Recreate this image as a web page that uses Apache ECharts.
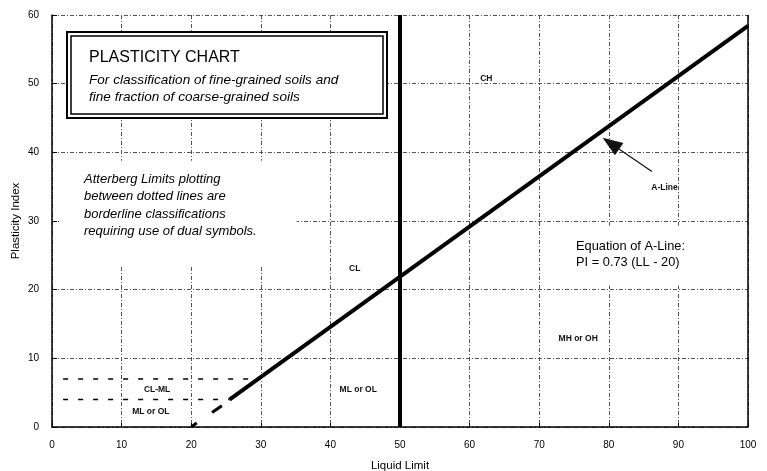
<!DOCTYPE html>
<html><head><meta charset="utf-8">
<script src="https://cdn.jsdelivr.net/npm/echarts@6/dist/echarts.min.js"></script>
<style>html,body{margin:0;padding:0;background:#fff}#c{width:767px;height:471px}</style>
</head><body><div id="c"></div>
<script>
// ---- data ----
const xTicks = [0,10,20,30,40,50,60,70,80,90,100];
const yTicks = [0,10,20,30,40,50,60];
const aLine = [[25.5,4.0],[100,58.4]];
const aLineStubs = [[[20,0],[20.8,0.6]],[[23.0,2.1],[24.4,3.1]]];
const llFifty = [[50,0],[50,60]];
const rightEdge = [[100,0],[100,60]];
const piFour = [[1.6,4],[25.5,4]];
const piSeven = [[1.6,7],[29.6,7]];
const zoneLabels = [
  {name:'CH', value:[62.4,50.8]},
  {name:'CL', value:[43.5,23.0]},
  {name:'MH or OH', value:[75.6,12.8]},
  {name:'ML or OL', value:[44.0,5.4]},
  {name:'CL-ML', value:[15.1,5.5]},
  {name:'ML or OL', value:[14.2,2.3]},
  {name:'A-Line', value:[88.0,34.9]}
];
const arrow = [[86.2,37.2],[80.3,41.3]];
const eqLines = ['Equation of A-Line:','PI = 0.73 (LL - 20)'];
const eqAnchor = [75.3,27.4];
const noteLines = ['Atterberg Limits plotting','between dotted lines are','borderline classifications','requiring use of dual symbols.'];
const noteAnchor = [4.6,37.3];
const titleText = 'PLASTICITY CHART';
const subTitleLines = ['For classification of fine-grained soils and','fine fraction of coarse-grained soils'];

const font = 'Liberation Sans, Arial, sans-serif';
const chart = echarts.init(document.getElementById('c'));
const gridLine = {show:true, lineStyle:{color:'#555', width:1, type:[4,2,1,2]}};
function seg(data, width, type){
  return {type:'line', data:data, symbol:'none', silent:true, animation:false,
    lineStyle:{color:'#000', width:width, type:type||'solid'}, z:3};
}
const opt = {
  animation:false,
  grid:{left:52, right:19, top:15, bottom:44, containLabel:false, outerBoundsMode:'none'},
  xAxis:{type:'value', min:0, max:100, interval:10,
    name:'Liquid Limit', nameLocation:'middle', nameGap:33,
    nameTextStyle:{fontFamily:font, fontSize:11.5, color:'#000'},
    axisLine:{show:true, onZero:false, lineStyle:{color:'#000', width:1.5}},
    axisTick:{show:true, inside:true, length:4, lineStyle:{color:'#000'}},
    axisLabel:{fontFamily:font, fontSize:10, color:'#000', margin:13},
    splitLine:gridLine},
  yAxis:{type:'value', min:0, max:60, interval:10,
    name:'Plasticity Index', nameLocation:'middle', nameGap:30, nameRotate:90, nameMoveOverlap:false,
    nameTextStyle:{fontFamily:font, fontSize:11.5, color:'#000'},
    axisLine:{show:true, onZero:false, lineStyle:{color:'#000', width:1.5}},
    axisTick:{show:true, inside:true, length:5, lineStyle:{color:'#000'}},
    axisLabel:{fontFamily:font, fontSize:10, color:'#000', margin:13},
    splitLine:gridLine},
  series:[
    seg(llFifty, 4),
    seg(rightEdge, 1.5),
    seg(aLine, 4),
    seg(aLineStubs[0], 3),
    seg(aLineStubs[1], 3),
    seg(piFour, 1.6, [5,10]),
    seg(piSeven, 1.6, [5,10]),
    {type:'scatter', data:zoneLabels, symbolSize:0, silent:true, z:5, itemStyle:{opacity:1},
      label:{show:true, position:'inside', formatter:p=>p.name, textBorderWidth:0,
        fontFamily:font, fontSize:8.5, fontWeight:'bold', color:'#111'}},
    {type:'scatter', data:[{value:eqAnchor}], symbolSize:0, silent:true, z:6, itemStyle:{opacity:1},
      label:{show:true, position:'inside', align:'left', verticalAlign:'top',
        formatter:eqLines.join('\n'), lineHeight:16, textBorderWidth:0,
        backgroundColor:'#fff', padding:[13,16,15,16], offset:[-16,-13],
        fontFamily:font, fontSize:12.8, color:'#000'}},
    {type:'scatter', data:[{value:noteAnchor}], symbolSize:0, silent:true, z:6, itemStyle:{opacity:1},
      label:{show:true, position:'inside', align:'left', verticalAlign:'top',
        formatter:noteLines.join('\n'), lineHeight:17.3, textBorderWidth:0,
        backgroundColor:'#fff', padding:[10,40,26,24], offset:[-24,-10],
        fontFamily:font, fontSize:13, fontStyle:'italic', color:'#000'}},
    {type:'line', data:[], silent:true,
      markLine:{silent:true, symbol:['none','triangle'], symbolSize:[14,20],
        label:{show:false},
        lineStyle:{color:'#111', width:1.2, type:'solid'},
        data:[[{coord:arrow[0], symbol:'none'},{coord:arrow[1], symbol:'triangle', symbolSize:[15,20], itemStyle:{color:'#6a6a6a',borderColor:'#000',borderWidth:1.5}}]]}}
  ],
  graphic:[
    {type:'rect', shape:{x:67,y:32,width:320,height:86}, style:{fill:'#fff', stroke:'#000', lineWidth:2}, z:10},
    {type:'rect', shape:{x:71,y:36,width:312,height:78}, style:{fill:'#fff', stroke:'#000', lineWidth:1.5}, z:10},
    {type:'text', x:89, y:58, style:{text:titleText, font:'16px '+font, fill:'#000', textVerticalAlign:'middle'}, z:11},
    {type:'text', x:89, y:80, style:{text:subTitleLines[0], font:'italic 13.6px '+font, fill:'#000', textVerticalAlign:'middle'}, z:11},
    {type:'text', x:89, y:97, style:{text:subTitleLines[1], font:'italic 13.6px '+font, fill:'#000', textVerticalAlign:'middle'}, z:11}
  ]
};
chart.setOption(opt);
</script></body></html>
